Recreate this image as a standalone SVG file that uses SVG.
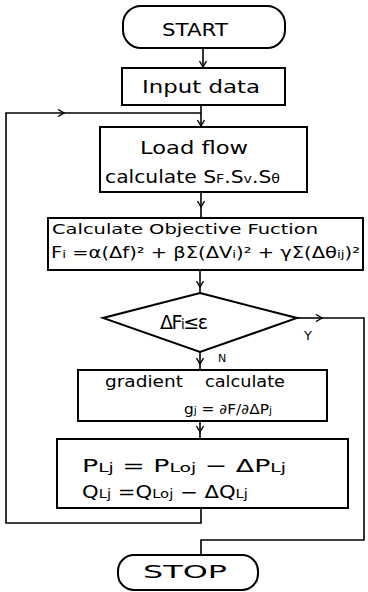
<svg xmlns="http://www.w3.org/2000/svg" width="368" height="592" viewBox="0 0 368 592">
<style>
.box{fill:#fff;stroke:#000;stroke-width:2}
.ln{fill:none;stroke:#000;stroke-width:1.6}
.t{font-family:"DejaVu Sans","Liberation Sans",sans-serif;fill:#000}
.sub{font-size:70%}
</style>
<defs>
<marker id="arr" markerWidth="8" markerHeight="8" refX="7" refY="4" orient="auto" markerUnits="userSpaceOnUse">
<path d="M1,0.5 L7,4 L1,7.5" fill="none" stroke="#000" stroke-width="1.4"/>
</marker>
</defs>
<rect width="368" height="592" fill="#fff"/>
<g id="connectors">
<path class="ln" d="M203,48 L203,67" marker-end="url(#arr)"/>
<path class="ln" d="M201,105 L201,126" marker-end="url(#arr)"/>
<path class="ln" d="M201,508 L201,523 L6,523 L6,113 L64,113" marker-end="url(#arr)"/>
<path class="ln" d="M64,113 L201,113"/>
<path class="ln" d="M201,192 L201,207" marker-end="url(#arr)"/>
<path class="ln" d="M201,207 L201,218"/>
<path class="ln" d="M200,270 L200,287" marker-end="url(#arr)"/>
<path class="ln" d="M200,287 L200,293"/>
<path class="ln" d="M200,352 L200,364" marker-end="url(#arr)"/>
<path class="ln" d="M200,364 L200,370"/>
<path class="ln" d="M200,421 L200,432" marker-end="url(#arr)"/>
<path class="ln" d="M200,432 L200,439"/>
<path class="ln" d="M297,318 L322,318" marker-end="url(#arr)"/>
<path class="ln" d="M322,318 L364,318 L364,540 L201,540 L201,555"/>
</g>
<g id="start">
<rect class="box" x="123" y="6" width="162" height="42" rx="18"/>
<text class="t" x="162" y="36" font-size="18" textLength="66" lengthAdjust="spacingAndGlyphs">START</text>
</g>
<g id="input">
<rect class="box" x="122" y="68" width="163" height="37"/>
<text class="t" x="142" y="93" font-size="17" textLength="118" lengthAdjust="spacingAndGlyphs">Input data</text>
</g>
<g id="loadflow">
<rect class="box" x="100" y="127" width="207" height="65"/>
<text class="t" x="140" y="154" font-size="18" textLength="108" lengthAdjust="spacingAndGlyphs">Load flow</text>
<text class="t" x="105" y="183" font-size="17" textLength="175" lengthAdjust="spacingAndGlyphs">calculate S<tspan class="sub">F</tspan>.S<tspan class="sub">v</tspan>.S<tspan class="sub">θ</tspan></text>
</g>
<g id="objective">
<rect class="box" x="48" y="218" width="315" height="52"/>
<text class="t" x="52" y="234" font-size="14" textLength="266" lengthAdjust="spacingAndGlyphs">Calculate Objective Fuction</text>
<text class="t" x="51" y="258" font-size="15" textLength="309" lengthAdjust="spacingAndGlyphs">F<tspan class="sub">i</tspan> =α(Δf)² + βΣ(ΔV<tspan class="sub">i</tspan>)² + γΣ(Δθ<tspan class="sub">ij</tspan>)²</text>
</g>
<g id="decision">
<polygon class="box" points="200,293 297,318 200,352 103,318"/>
<text class="t" x="160" y="329" font-size="19" textLength="48" lengthAdjust="spacing">ΔF<tspan class="sub">i</tspan>≤ε</text>
<text class="t" x="304" y="340" font-size="13">Y</text>
<text class="t" x="218" y="362" font-size="11">N</text>
</g>
<g id="gradient">
<rect class="box" x="78" y="370" width="249" height="51"/>
<text class="t" x="105" y="387" font-size="16" textLength="78" lengthAdjust="spacingAndGlyphs">gradient</text>
<text class="t" x="205" y="387" font-size="16" textLength="80" lengthAdjust="spacingAndGlyphs">calculate</text>
<text class="t" x="184" y="414" font-size="14" textLength="88" lengthAdjust="spacingAndGlyphs">g<tspan class="sub">j</tspan> = ∂F/∂ΔP<tspan class="sub">j</tspan></text>
</g>
<g id="update">
<rect class="box" x="57" y="439" width="291" height="69"/>
<text class="t" x="82" y="472" font-size="18" textLength="204" lengthAdjust="spacingAndGlyphs">P<tspan class="sub">Lj</tspan> = P<tspan class="sub">Loj</tspan> − ΔP<tspan class="sub">Lj</tspan></text>
<text class="t" x="82" y="498" font-size="17" textLength="166" lengthAdjust="spacingAndGlyphs">Q<tspan class="sub">Lj</tspan> =Q<tspan class="sub">Loj</tspan> − ΔQ<tspan class="sub">Lj</tspan></text>
</g>
<g id="stop">
<rect class="box" x="118" y="555" width="140" height="35" rx="16"/>
<text class="t" x="143" y="578" font-size="17" textLength="84" lengthAdjust="spacingAndGlyphs">STOP</text>
</g>
</svg>
